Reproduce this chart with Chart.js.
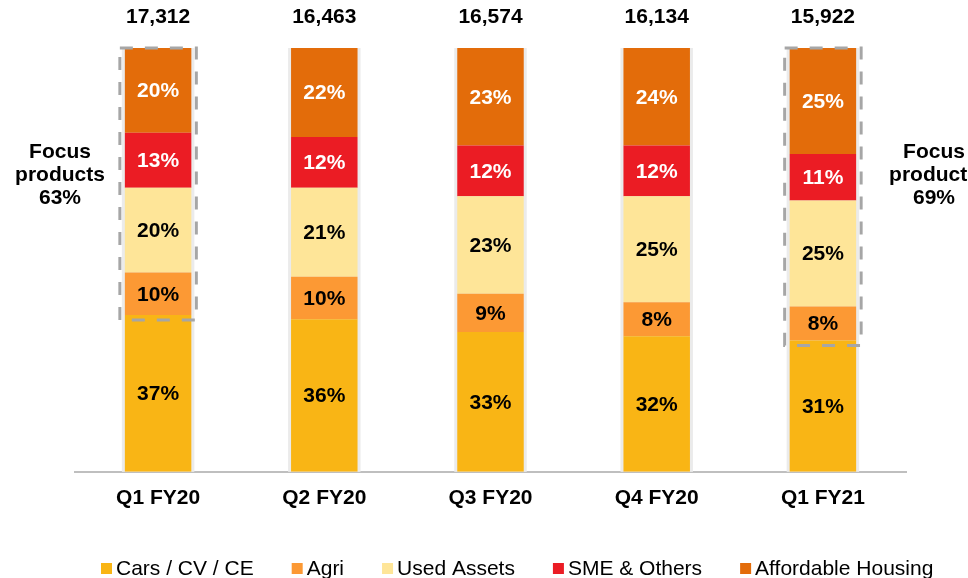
<!DOCTYPE html>
<html>
<head>
<meta charset="utf-8">
<script src="https://cdn.jsdelivr.net/npm/chart.js@4.4.0/dist/chart.umd.min.js"></script>
<style>
  body { margin: 0; background: #fff; }
  #wrap { width: 968px; height: 578px; position: relative; }
</style>
</head>
<body>
<div id="wrap"><canvas id="mix"></canvas></div>
<script>
// datos del grafico
const quarters = ['Q1 FY20', 'Q2 FY20', 'Q3 FY20', 'Q4 FY20', 'Q1 FY21'];
const totals = ['17,312', '16,463', '16,574', '16,134', '15,922'];

const cars = [37, 36, 33, 32, 31];
const agri = [10, 10, 9, 8, 8];
const usedAssets = [20, 21, 23, 25, 25];
const sme = [13, 12, 12, 12, 11];
const housing = [20, 22, 23, 24, 25];

const focusLeft = ['Focus', 'products', '63%'];
const focusRight = ['Focus', 'products', '69%'];
const focusBars = [0, 4];   // barras con el recuadro punteado

const FONT = '"Liberation Sans", Arial, sans-serif';

const series = [
    { label: 'Cars / CV / CE', data: cars, color: '#F9B515', text: '#000' },
    { label: 'Agri', data: agri, color: '#FC9934', text: '#000' },
    { label: 'Used Assets', data: usedAssets, color: '#FEE598', text: '#000' },
    { label: 'SME & Others', data: sme, color: '#EB1C24', text: '#fff' },
    { label: 'Affordable Housing', data: housing, color: '#E36C0A', text: '#fff' }
];

// sombra gris clara detras de cada barra
const barBack = {
    id: 'barBack',
    beforeDatasetsDraw(chart) {
        const ctx = chart.ctx;
        const y = chart.scales.y;
        const top = y.getPixelForValue(100);
        const bottom = y.getPixelForValue(0);
        ctx.save();
        ctx.fillStyle = '#ebebeb';
        chart.getDatasetMeta(0).data.forEach(bar => {
            ctx.fillRect(bar.x - bar.width / 2 - 3, top, bar.width + 6, bottom - top);
        });
        ctx.restore();
    }
};

// porcentajes, totales, recuadros y textos de focus
const extras = {
    id: 'extras',
    afterDatasetsDraw(chart) {
        const ctx = chart.ctx;
        const y = chart.scales.y;
        ctx.save();
        ctx.font = 'bold 21px ' + FONT;
        ctx.textAlign = 'center';
        ctx.textBaseline = 'middle';

        chart.data.datasets.forEach((ds, i) => {
            const meta = chart.getDatasetMeta(i);
            meta.data.forEach((bar, j) => {
                let top = Math.max(bar.y, chart.chartArea.top);
                ctx.fillStyle = series[i].text;
                ctx.fillText(ds.data[j] + '%', bar.x, (top + bar.base) / 2 + 1);
            });
        });

        const first = chart.getDatasetMeta(0).data;
        ctx.fillStyle = '#000';
        first.forEach((bar, j) => {
            ctx.fillText(totals[j], bar.x, 17);
        });

        // recuadros punteados
        ctx.strokeStyle = '#a6a6a6';
        ctx.lineWidth = 3;
        ctx.setLineDash([13, 12]);
        focusBars.forEach(j => {
            const bar = first[j];
            const top = y.getPixelForValue(100);
            const bottom = bar.y + 5;
            ctx.strokeRect(bar.x - bar.width / 2 - 5, top, bar.width + 10, bottom - top);
        });
        ctx.setLineDash([]);

        ctx.fillStyle = '#000';
        focusLeft.forEach((t, k) => ctx.fillText(t, 60, 152 + k * 23));
        focusRight.forEach((t, k) => ctx.fillText(t, 934, 152 + k * 23));

        // leyenda abajo
        ctx.font = '21px ' + FONT;
        ctx.textAlign = 'left';
        let x = 101;
        series.forEach(s => {
            ctx.fillStyle = s.color;
            ctx.fillRect(x, 563, 11, 11);
            ctx.fillStyle = '#000';
            ctx.fillText(s.label, x + 15, 569);
            x += 15 + ctx.measureText(s.label).width + 38;
        });
        ctx.restore();
    }
};

new Chart(document.getElementById('mix'), {
    type: 'bar',
    data: {
        labels: quarters,
        datasets: series.map(s => ({
            label: s.label,
            data: s.data,
            backgroundColor: s.color,
            borderWidth: 0,
            clip: 0
        }))
    },
    options: {
        responsive: true,
        maintainAspectRatio: false,
        animation: false,
        layout: { padding: { left: 75, right: 62, top: 48, bottom: 53 } },
        datasets: { bar: { categoryPercentage: 1, barPercentage: 0.4 } },
        plugins: { legend: { display: false }, tooltip: { enabled: false } },
        scales: {
            x: {
                stacked: true,
                grid: { display: false, drawTicks: false },
                border: { color: '#bfbfbf', width: 2 },
                ticks: { color: '#000', padding: 14, font: { family: FONT, size: 21, weight: 'bold' } }
            },
            y: { stacked: true, display: false, min: 0, max: 100 }
        }
    },
    plugins: [barBack, extras]
});
</script>
</body>
</html>
